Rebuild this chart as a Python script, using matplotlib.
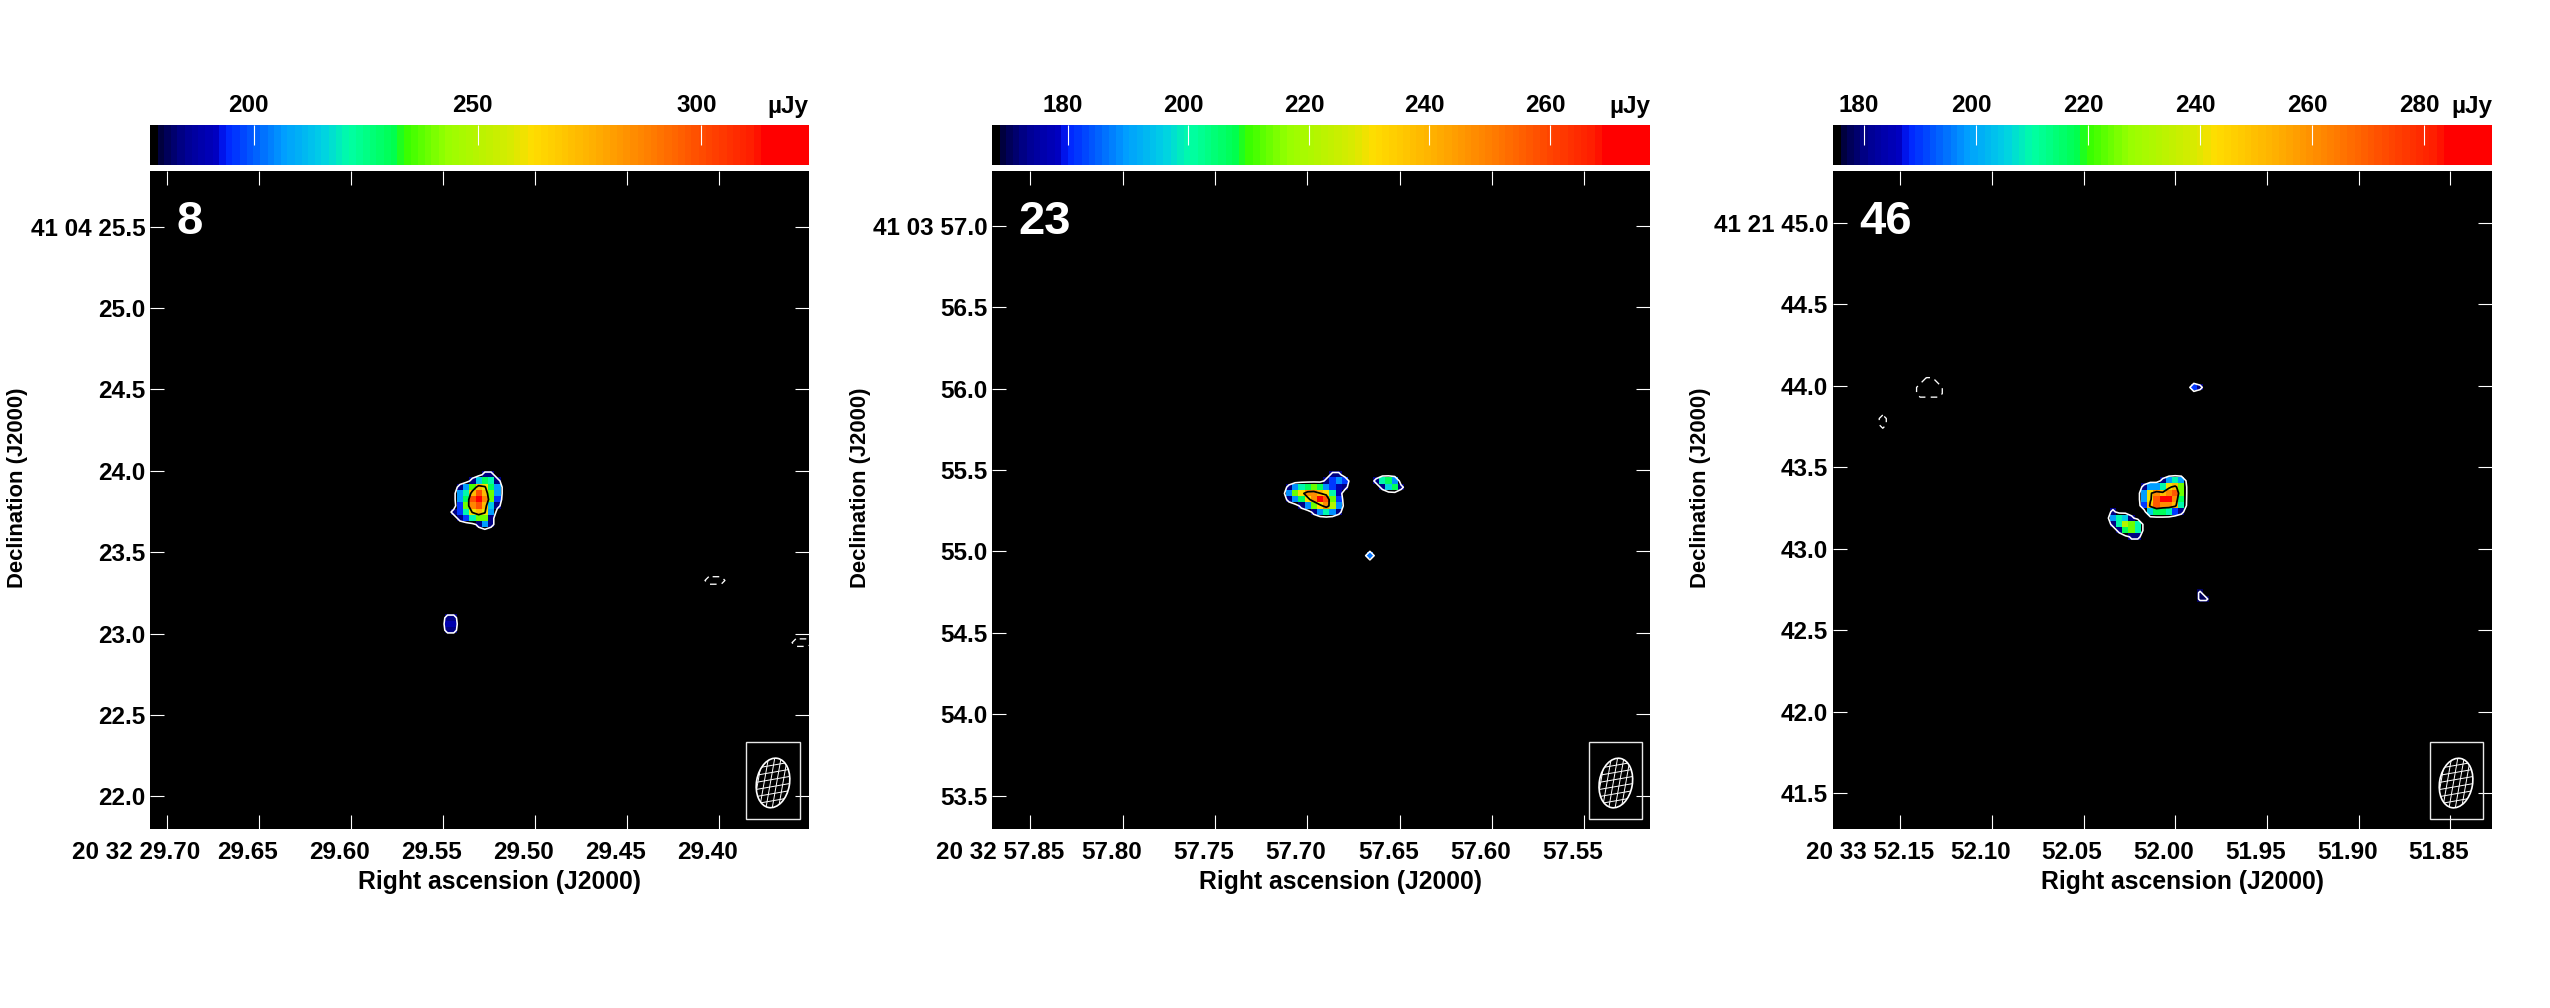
import numpy as np
import matplotlib
matplotlib.use("Agg")
import matplotlib.pyplot as plt
from matplotlib.colors import LinearSegmentedColormap, Normalize
from matplotlib.patches import Ellipse, Rectangle
from matplotlib.lines import Line2D
from matplotlib.transforms import Affine2D, ScaledTranslation

plt.rcParams['font.family'] = ['Liberation Sans', 'DejaVu Sans']
W, H = 2550, 1008
LBL = 17.5
WEIGHT = 'bold'

stops = [(0, (0, 0, 0)), (.012, (0, 0, .28)), (.05, (0, 0, .58)), (.10, (0, 0, .78)), (.108, (0, .12, 1)),
         (.20, (0, .62, 1)), (.26, (0, .82, .9)), (.30, (0, 1, .65)), (.37, (0, 1, .3)),
         (.385, (.2, 1, 0)), (.45, (.6, 1, 0)), (.55, (.85, .92, 0)), (.58, (1, .87, 0)),
         (.67, (1, .7, 0)), (.76, (1, .5, 0)), (.84, (1, .3, 0)), (.925, (1, .1, 0)),
         (.93, (1, 0, 0)), (1, (1, 0, 0))]
cmap = LinearSegmentedColormap.from_list('aips', stops, N=96).with_extremes(under='black')

# panel 8 ---------------------------------------------------------------
p8_pos = [[0, 0, 0, 0, 0, 184, 184, 0],
          [0, 0, 0, 184, 215, 230, 221, 184],
          [0, 184, 206, 236, 272, 261, 230, 206],
          [0, 206, 221, 272, 298, 272, 239, 206],
          [0, 206, 230, 298, 314, 286, 239, 196],
          [0, 196, 239, 286, 298, 272, 215, 184],
          [184, 196, 221, 261, 272, 261, 206, 0],
          [0, 184, 196, 221, 239, 239, 184, 0],
          [0, 0, 0, 0, 184, 206, 184, 0]]
p8_src2 = [[184, 184], [188, 188], [184, 184]]
p8_neg1 = [[-190, -190, -190]]
p8_neg2 = [[-190, -190, -190]]
# panel 23 --------------------------------------------------------------
p23_pos = [[0, 0, 0, 0, 0, 0, 0, 173, 173, 0],
           [0, 0, 0, 0, 0, 0, 173, 182, 189, 182],
           [173, 189, 200, 207, 213, 207, 189, 182, 176, 173],
           [189, 213, 230, 248, 248, 238, 230, 200, 176, 0],
           [173, 189, 207, 230, 248, 269, 257, 213, 182, 0],
           [0, 0, 173, 189, 213, 230, 248, 222, 189, 0],
           [0, 0, 0, 0, 173, 189, 200, 189, 173, 0]]
p23_src2 = [[173, 200, 207, 189, 0],
            [0, 173, 196, 207, 173]]
p23_src3 = [[186]]
# panel 46 --------------------------------------------------------------
p46_pos = [[0, 0, 0, 180, 198, 210, 198, 0],
           [180, 198, 198, 210, 241, 251, 224, 0],
           [198, 241, 261, 251, 261, 271, 224, 0],
           [198, 241, 271, 284, 284, 261, 217, 0],
           [190, 251, 271, 261, 261, 251, 210, 0],
           [0, 205, 217, 217, 210, 190, 180, 0]]
p46_src2 = [[180, 0, 0, 0, 0],
            [198, 210, 205, 180, 0],
            [180, 210, 233, 224, 210],
            [0, 180, 217, 224, 210],
            [0, 0, 0, 180, 180]]
p46_src3 = [[178, 0], [178, 178]]
p46_src4 = [[190, 180]]
p46_neg1 = [[0, -186, -186, 0], [-186, -186, -186, -186], [-186, -186, -186, -186]]
p46_neg2 = [[-186], [-186]]
p46_neg3 = [[-175.5]]

panels = [
    dict(num='8', left=150, right=808.7, vmin=176.8, vmax=324.0, lvl_hi=258,
         ra=(29.7092, 29.3512), dec=(21.80, 25.844), ra0=29.5458, dec0=23.9953, dra=.00338,
         pos=[(p8_pos, 0, 0), (p8_src2, -1, 23)], neg=[(p8_neg1, 41, 17), (p8_neg2, 55, 27)],
         xt=[29.70, 29.65, 29.60, 29.55, 29.50, 29.45, 29.40],
         xl=['20 32 29.70', '29.65', '29.60', '29.55', '29.50', '29.45', '29.40'],
         yt=[25.5, 25.0, 24.5, 24.0, 23.5, 23.0, 22.5, 22.0],
         yl=['41 04 25.5', '25.0', '24.5', '24.0', '23.5', '23.0', '22.5', '22.0'],
         ct=[200, 250, 300], box=(29.3851, 29.3562, 21.860, 22.335), beam=(29.3706, 22.083)),
    dict(num='23', left=992, right=1650, vmin=167.4, vmax=276.6, lvl_hi=237,
         ra=(57.8708, 57.5145), dec=(53.2955, 57.339), ra0=57.7117, dec0=55.4904, dra=.003373,
         pos=[(p23_pos, 0, 0), (p23_src2, 14, 1), (p23_src3, 13, 13)], neg=[],
         xt=[57.85, 57.80, 57.75, 57.70, 57.65, 57.60, 57.55],
         xl=['20 32 57.85', '57.80', '57.75', '57.70', '57.65', '57.60', '57.55'],
         yt=[57.0, 56.5, 56.0, 55.5, 55.0, 54.5, 54.0, 53.5],
         yl=['41 03 57.0', '56.5', '56.0', '55.5', '55.0', '54.5', '54.0', '53.5'],
         ct=[180, 200, 220, 240, 260], box=(57.5473, 57.5190, 53.354, 53.830), beam=(57.5330, 53.578)),
    dict(num='46', left=1833, right=2492, vmin=174.5, vmax=292.1, lvl_hi=245,
         ra=(52.1866, 51.8273), dec=(41.279, 45.319), ra0=52.0187, dec0=43.4353, dra=.003392,
         pos=[(p46_pos, 0, 0), (p46_src2, -5, 5), (p46_src3, 9, 18), (p46_src4, 8, -15)],
         neg=[(p46_neg1, -36, -16), (p46_neg2, -42, -10), (p46_neg3, -38, -24)],
         xt=[52.15, 52.10, 52.05, 52.00, 51.95, 51.90, 51.85],
         xl=['20 33 52.15', '52.10', '52.05', '52.00', '51.95', '51.90', '51.85'],
         yt=[45.0, 44.5, 44.0, 43.5, 43.0, 42.5, 42.0, 41.5],
         yl=['41 21 45.0', '44.5', '44.0', '43.5', '43.0', '42.5', '42.0', '41.5'],
         ct=[180, 200, 220, 240, 260, 280], box=(51.8611, 51.8323, 41.338, 41.813), beam=(51.8469, 41.561)),
]
DDEC = .0382
BAR_TOP, BAR_BOT, AX_TOP, AX_BOT = 125, 165, 170.7, 829
BG_GAP = 8
C0, R0, NG = -60, -60, 130


def build(patches, fill):
    g = np.full((NG, NG), float(fill))
    for arr, col, row in patches:
        a = np.array(arr, float)
        for r in range(a.shape[0]):
            for c in range(a.shape[1]):
                if a[r, c] != 0:
                    g[row + r - R0, col + c - C0] = a[r, c]
    return g


fig = plt.figure(figsize=(W / 100, H / 100), dpi=100, facecolor='white')

for p in panels:
    L, Rr = p['left'], p['right']
    ax = fig.add_axes([L / W, 1 - AX_BOT / H, (Rr - L) / W, (AX_BOT - AX_TOP) / H], facecolor='black')
    cax = fig.add_axes([L / W, 1 - BAR_BOT / H, (Rr - L) / W, (BAR_BOT - BAR_TOP) / H])
    norm = Normalize(p['vmin'], p['vmax'])
    low = p['vmin'] + 1
    grid = build(p['pos'], low - BG_GAP)
    xc = p['ra0'] - (np.arange(NG) + C0 + .5) * p['dra']
    yc = p['dec0'] - (np.arange(NG) + R0 + .5) * DDEC
    ext = (xc[0] + p['dra'] / 2, xc[-1] - p['dra'] / 2, yc[-1] - DDEC / 2, yc[0] + DDEC / 2)
    ax.imshow(grid, cmap=cmap, norm=norm, extent=ext, origin='upper', aspect='auto', interpolation='nearest')
    ax.contour(xc, yc, grid, levels=[low], colors='white', linewidths=1.15)
    ax.contour(xc, yc, grid, levels=[p['lvl_hi']], colors='black', linewidths=1.25)
    if p['neg']:
        ng = build(p['neg'], -(low - BG_GAP))
        ax.contour(xc, yc, ng, levels=[-low], colors='white', linewidths=.95,
                   linestyles=[(0, (5, 4))])
    ax.set_xlim(*p['ra'])
    ax.set_ylim(*p['dec'])

    ax.set_xticks(p['xt'])
    ax.set_xticklabels(p['xl'], fontsize=LBL, fontweight=WEIGHT)
    ax.set_yticks(p['yt'])
    ax.set_yticklabels(p['yl'], fontsize=LBL, fontweight=WEIGHT)
    ax.tick_params(direction='in', length=10, width=.8, color='white', top=True, right=True,
                   labelcolor='black')
    ax.tick_params(axis='x', pad=8.5)
    ax.tick_params(axis='y', pad=3.5)
    for s in ax.spines.values():
        s.set_visible(False)
    for i, t in enumerate(ax.get_xticklabels()):
        if i == 0:
            t.set_ha('right')
            off = 33.5
        else:
            off = -11.5
        t.set_transform(t.get_transform() + ScaledTranslation(off / 100, 0, fig.dpi_scale_trans))

    ax.text(26 / (Rr - L), .922, p['num'], transform=ax.transAxes, color='white', fontsize=34,
            fontweight='bold', va='center', ha='left')
    ax.text((499 - 150) / 658.7, -(882 - AX_BOT) / (AX_BOT - AX_TOP), 'Right ascension (J2000)',
            transform=ax.transAxes, fontsize=17.8, fontweight=WEIGHT, ha='center', va='center')
    ax.text(-132 / 658.7, (AX_BOT - 488) / (AX_BOT - AX_TOP), 'Declination (J2000)', rotation=90,
            transform=ax.transAxes, fontsize=15.8, fontweight=WEIGHT, ha='center', va='center')

    # beam
    x0, x1, y0, y1 = p['box']
    ax.add_patch(Rectangle((x0, y0), x1 - x0, y1 - y0, fill=False, ec='#e8e8e8', lw=1.0, zorder=5))
    fig.canvas.draw()
    cx, cy = ax.transData.transform(p['beam'])
    tr = Affine2D().rotate_deg(-10).translate(cx, cy)
    ell = Ellipse((0, 0), 33, 50, fc='none', ec='white', lw=1.2, transform=tr, zorder=7, clip_on=False)
    fig.add_artist(ell)
    clip = Ellipse((0, 0), 33, 50, transform=tr)
    for d in np.arange(-15, 16, 6.2):
        ln = Line2D([d, d], [-30, 30], color='white', lw=.7, transform=tr, zorder=6)
        fig.add_artist(ln)
        ln.set_clip_path(clip)
    tr2 = Affine2D().rotate_deg(10).translate(cx, cy)
    for d in np.arange(-24.5, 25, 7):
        ln = Line2D([-30, 30], [d, d], color='white', lw=.7, transform=tr2, zorder=6)
        fig.add_artist(ln)
        ln.set_clip_path(clip)

    # colour bar
    cax.imshow(np.linspace(p['vmin'], p['vmax'], 600)[None, :], cmap=cmap, norm=norm, aspect='auto',
               extent=(p['vmin'], p['vmax'], 0, 1), interpolation='nearest')
    cax.set_yticks([])
    cax.xaxis.tick_top()
    cax.set_xticks(p['ct'])
    cax.set_xticklabels([str(v) for v in p['ct']], fontsize=LBL, fontweight=WEIGHT)
    cax.tick_params(axis='x', direction='in', length=14.5, width=.8, color='white', pad=5.5)
    for s in cax.spines.values():
        s.set_visible(False)
    for t in cax.get_xticklabels():
        t.set_transform(t.get_transform() + ScaledTranslation(-5 / 100, 0, fig.dpi_scale_trans))
    cax.text(1, 1 + 7.5 / 40, 'µJy', transform=cax.transAxes, ha='right', va='bottom', fontsize=LBL,
             fontweight=WEIGHT)

fig.savefig('out.png', dpi=100, facecolor='white')
